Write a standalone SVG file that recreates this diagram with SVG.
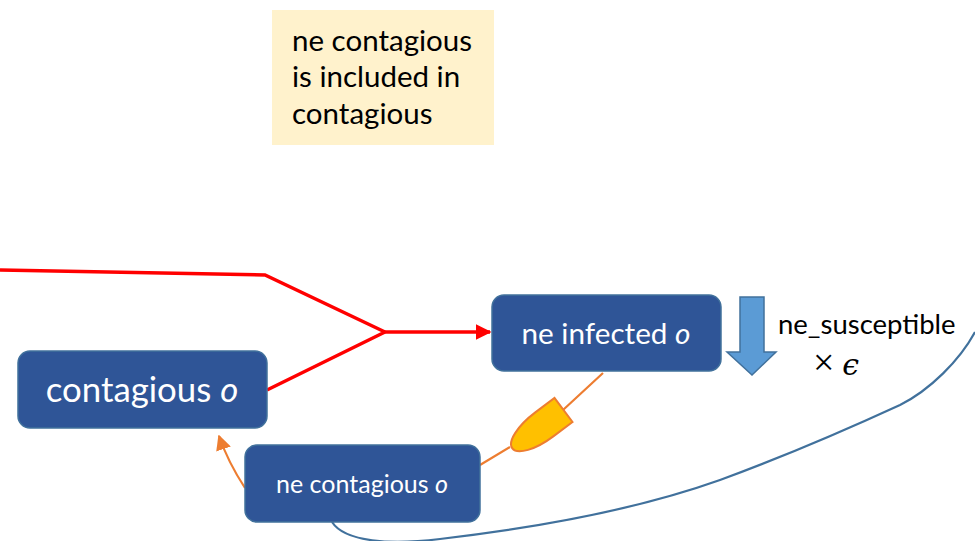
<svg xmlns="http://www.w3.org/2000/svg" width="975" height="541" viewBox="0 0 975 541">
  <style>
    .node rect { fill: #2F5597; stroke: #41719C; stroke-width: 1.5; }
    .node text { fill: #FFFFFF; font-family: Lato, "Open Sans", sans-serif; text-anchor: middle; }
    .it { font-style: italic; }
    .note text { fill: #000000; font-family: Lato, "Open Sans", sans-serif; font-size: 29.5px; }
    .lbl { fill: #000000; font-family: Lato, "Open Sans", sans-serif; }
    .red { fill: none; stroke: #FF0000; stroke-width: 3.5; }
    .orange { fill: none; stroke: #ED7D31; stroke-width: 2.2; }
    .blue { fill: none; stroke: #41719C; stroke-width: 2.2; }
  </style>
  <defs>
    <marker id="redHead" viewBox="0 0 10 10" refX="9" refY="5" markerWidth="4.5" markerHeight="4.5" orient="auto" markerUnits="strokeWidth">
      <path d="M0,0 L10,5 L0,10 Z" fill="#FF0000"/>
    </marker>
    <marker id="orangeHead" viewBox="0 0 10 10" refX="9" refY="5" markerWidth="7" markerHeight="7" orient="auto" markerUnits="strokeWidth">
      <path d="M0,0 L10,5 L0,10 Z" fill="#ED7D31"/>
    </marker>
  </defs>

  <!-- note -->
  <g id="note" class="note">
    <rect x="272" y="10" width="222" height="135" fill="#FFF2CC"/>
    <text x="292" y="51">ne contagious</text>
    <text x="292" y="87">is included in</text>
    <text x="292" y="124">contagious</text>
  </g>

  <!-- connectors -->
  <g id="connectors">
    <path class="red" d="M0,270 L265,275 L385,332 M267,390 L385,332"/>
    <path class="red" d="M385,332 L490,332" marker-end="url(#redHead)"/>
    <path class="orange" d="M603,373 L563,410 M510,447 L480,465"/>
    <path class="orange" d="M245,488 Q228,462 219,436" marker-end="url(#orangeHead)"/>
    <path class="blue" d="M332,522 C345,542 390,545 440,539 C560,525 650,505 720,480 C780,458 850,428 900,405 C930,390 960,360 975,332"/>
    <!-- gate on the orange link -->
    <path transform="translate(563.5,410) rotate(143.1)" d="M0,-15 L24,-15 A40,15 0 0 1 24,15 L0,15 Z" fill="#FFC000" stroke="#ED7D31" stroke-width="2"/>
  </g>

  <!-- nodes -->
  <g id="contagious" class="node">
    <rect x="18" y="351" width="249" height="77" rx="12"/>
    <text x="142" y="402" font-size="34.8">contagious <tspan class="it">o</tspan></text>
  </g>
  <g id="ne_infected" class="node">
    <rect x="492" y="295" width="229" height="76" rx="12"/>
    <text x="606" y="344" font-size="29.7">ne infected <tspan class="it">o</tspan></text>
  </g>
  <g id="ne_contagious" class="node">
    <rect x="245" y="445" width="235" height="77" rx="12"/>
    <text x="362" y="493" font-size="25">ne contagious <tspan class="it">o</tspan></text>
  </g>

  <!-- down arrow and rate label -->
  <g id="rate">
    <path d="M740,297 L764,297 L764,352 L776,352 L752,375 L727,352 L740,352 Z" fill="#5B9BD5" stroke="#41719C" stroke-width="1.5"/>
    <text class="lbl" x="778" y="334" font-size="27.5">ne_susceptible</text>
    <text class="lbl" x="813" y="375" font-size="30"><tspan font-family="'Liberation Serif', serif" font-size="38">×</tspan> <tspan font-family="'DejaVu Serif', serif" font-style="italic" font-size="30">ϵ</tspan></text>
  </g>
</svg>
